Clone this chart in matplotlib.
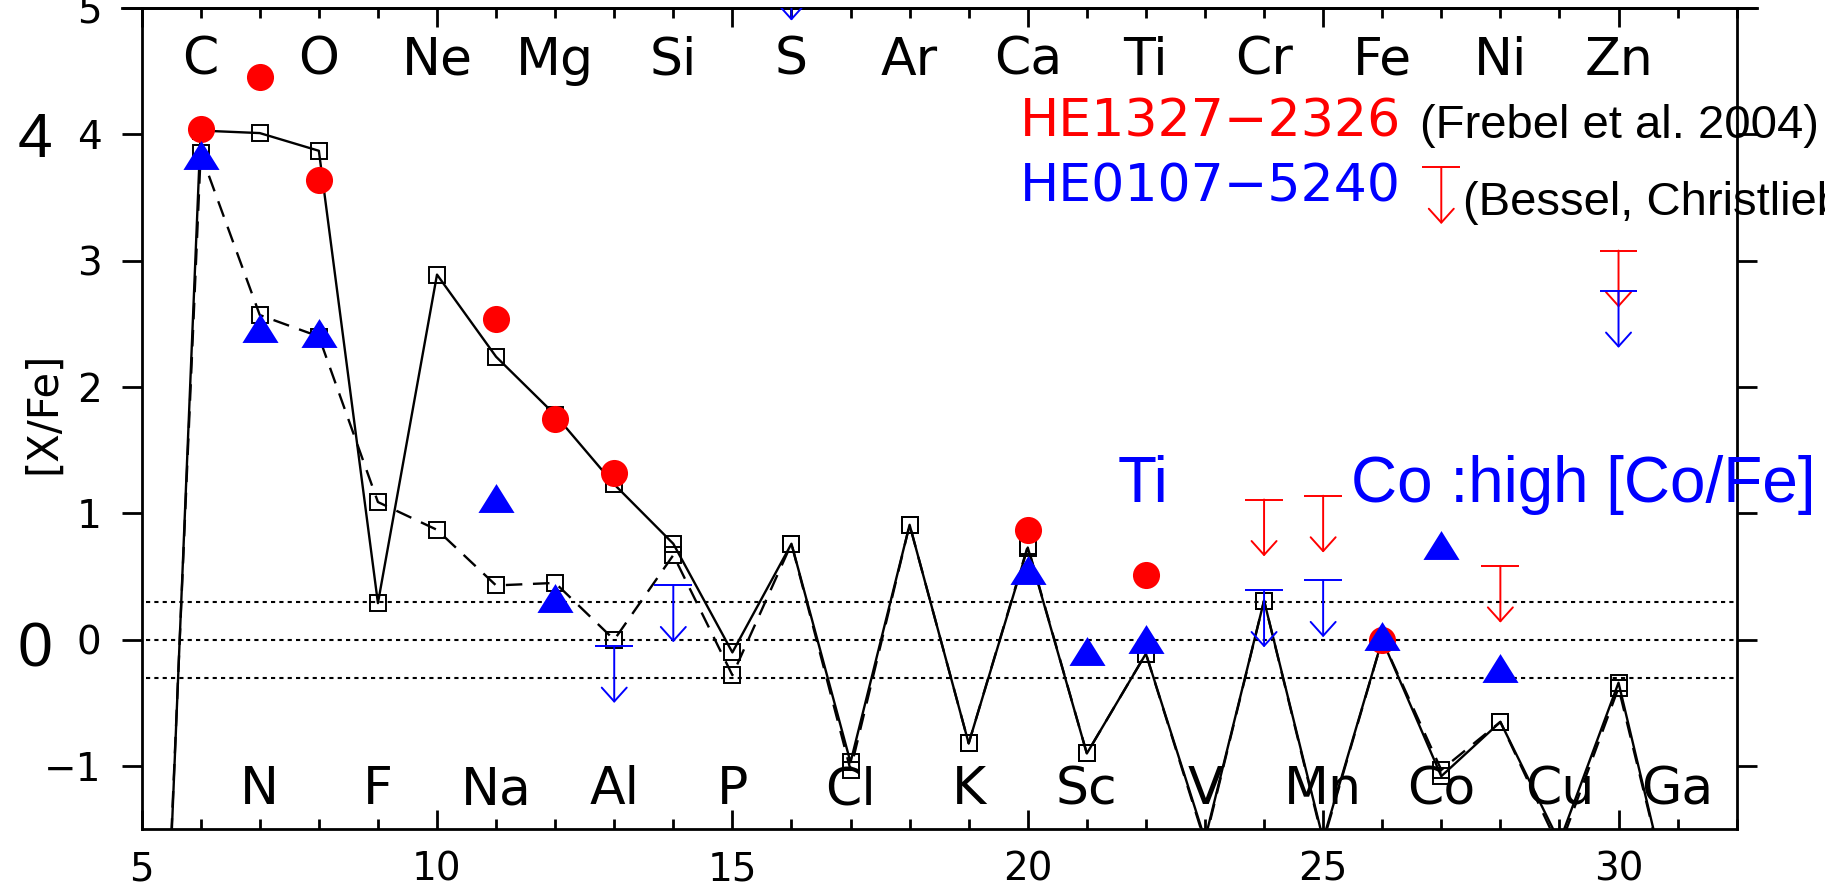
import numpy as np
import matplotlib
matplotlib.use('Agg')
import matplotlib.pyplot as plt
from matplotlib.patches import FancyArrowPatch
from matplotlib.lines import Line2D

# ---------------- data ----------------
Z_model = [5, 6, 7, 8, 9, 10, 11, 12, 13, 14, 15, 16, 17, 18, 19, 20,
           21, 22, 23, 24, 25, 26, 27, 28, 29, 30, 31]
model_solid = [-7.3, 4.03, 4.01, 3.87, 0.29, 2.89, 2.24, 1.78, 1.23, 0.76, -0.10,
               0.76, -0.97, 0.91, -0.82, 0.73, -0.90, -0.11, -1.58, 0.31, -1.58,
               0.00, -1.08, -0.65, -1.60, -0.34, -2.30]
model_dashed = [-7.0, 3.85, 2.57, 2.40, 1.09, 0.87, 0.43, 0.45, 0.00, 0.67, -0.28,
                0.76, -1.03, 0.91, -0.82, 0.74, -0.90, -0.11, -1.60, 0.31, -1.60,
                0.00, -1.03, -0.65, -1.65, -0.38, -2.30]

top_Z = [6, 8, 10, 12, 14, 16, 18, 20, 22, 24, 26, 28, 30]
top_labels = ['C', 'O', 'Ne', 'Mg', 'Si', 'S', 'Ar', 'Ca', 'Ti', 'Cr', 'Fe', 'Ni', 'Zn']
bottom_Z = [7, 9, 11, 13, 15, 17, 19, 21, 23, 25, 27, 29, 31]
bottom_labels = ['N', 'F', 'Na', 'Al', 'P', 'Cl', 'K', 'Sc', 'V', 'Mn', 'Co', 'Cu', 'Ga']

he1327_Z = [6, 7, 8, 11, 12, 13, 20, 22, 26]
he1327_val = [4.04, 4.45, 3.64, 2.54, 1.75, 1.32, 0.87, 0.51, 0.00]
he1327_lim_Z = [24, 25, 28, 30]
he1327_lim_val = [1.11, 1.14, 0.585, 3.08]

he0107_Z = [6, 7, 8, 11, 12, 20, 21, 22, 26, 27, 28]
he0107_val = [3.84, 2.47, 2.43, 1.12, 0.33, 0.55, -0.085, 0.005, 0.03, 0.75, -0.225]
he0107_lim_Z = [13, 14, 16, 24, 25, 30]
he0107_lim_val = [-0.05, 0.43, 5.35, 0.39, 0.47, 2.76]

ref_lines = [0.3, 0.0, -0.3]
xticks_major = [5, 10, 15, 20, 25, 30]
yticks_major = [-1, 0, 1, 2, 3, 4, 5]

RED = (1, 0, 0)
BLUE = (0, 0, 1)
STROKE_FONT = 'DejaVu Sans'
ARIAL = 'Liberation Sans'

# ---------------- figure ----------------
fig = plt.figure(figsize=(18.25, 8.88), dpi=100)
ax = fig.add_axes([0.0776, 0.0661, 0.8740, 0.9249])
ax.set_xlim(5, 32)
ax.set_ylim(-1.5, 5)

for sp in ax.spines.values():
    sp.set_linewidth(2.0)

# extended top frame line (goes past the vertical spines by the tick length)
ext = 20.0 / (0.8740 * 1825)
ax.add_line(Line2D([-ext, 1 + ext], [1, 1], transform=ax.transAxes,
                   color='black', lw=2.0, clip_on=False, zorder=3))

ax.set_xticks(xticks_major)
ax.set_xticks(np.arange(5, 33, 1), minor=True)
ax.set_yticks(yticks_major)
ax.tick_params(axis='x', which='both', direction='in', top=True, bottom=True,
               width=2.0, labelsize=28, pad=15)
ax.tick_params(axis='x', which='major', length=14)
ax.tick_params(axis='x', which='minor', length=7)
ax.tick_params(axis='y', which='major', direction='out', left=True, right=True,
               length=14.4, width=2.0, labelsize=28, pad=14.5)
for lab in ax.get_xticklabels() + ax.get_yticklabels():
    lab.set_fontfamily(STROKE_FONT)

ax.set_ylabel('[X/Fe]', fontsize=30, fontfamily=STROKE_FONT)
ax.yaxis.set_label_coords(-0.0487, 0.507)

# big duplicated labels at far left
ax.text(3.20, 3.82, '4', fontsize=45, fontfamily=ARIAL, ha='center', va='baseline',
        clip_on=False)
ax.text(3.20, -0.21, '0', fontsize=45, fontfamily=ARIAL, ha='center', va='baseline',
        clip_on=False)

# dotted reference lines
ax.hlines(ref_lines, 5.08, 32, colors='black', lw=1.5, linestyles=[(0, (2, 2))],
          zorder=1)

# model lines
ax.plot(Z_model, model_solid, '-', color='black', lw=1.7, marker='s', ms=12,
        mfc='none', mec='black', mew=1.4, zorder=2)
ax.plot(Z_model, model_dashed, color='black', lw=1.7, ls=(0, (7, 4.5)), marker='s',
        ms=12, mfc='none', mec='black', mew=1.4, zorder=2)

# observations
ax.plot(he1327_Z, he1327_val, 'o', color=RED, ms=19.5, mec='none', zorder=4)
tri = [(-0.5, -0.4), (0.5, -0.4), (0.0, 0.4)]
ax.plot(he0107_Z, he0107_val, ls='none', marker=tri, color=BLUE, ms=26, mec='none',
        zorder=4.5)

bar_half = 0.32
arrow_len = 0.45
lim_lw = 1.4


def draw_limits(xs, ys, color):
    xs = np.asarray(xs, float)
    ys = np.asarray(ys, float)
    ax.hlines(ys, xs - bar_half, xs + bar_half, colors=[color], lw=lim_lw, zorder=5)
    for x, y in zip(xs, ys):
        arr = FancyArrowPatch((x, y), (x, y - arrow_len),
                              arrowstyle='->,head_length=10,head_width=9',
                              mutation_scale=1, lw=lim_lw, color=color,
                              shrinkA=0, shrinkB=0, zorder=5)
        ax.add_patch(arr)


draw_limits(he1327_lim_Z, he1327_lim_val, RED)
draw_limits(he0107_lim_Z, he0107_lim_val, BLUE)

# element names
for z, lab in zip(top_Z, top_labels):
    ax.text(z, 4.47, lab, fontsize=37.5, fontfamily=STROKE_FONT, ha='center',
            va='baseline')
for z, lab in zip(bottom_Z, bottom_labels):
    ax.text(z, -1.30, lab, fontsize=37.5, fontfamily=STROKE_FONT, ha='center',
            va='baseline', zorder=1.5)

# legend-like annotations
ax.text(19.86, 3.98, 'HE1327\u22122326', color=RED, fontsize=37.5,
        fontfamily=STROKE_FONT, va='baseline', clip_on=False)
ax.text(26.64, 3.97, '(Frebel et al. 2004)', color='black', fontsize=34,
        fontfamily=ARIAL, va='baseline', clip_on=False)
ax.text(19.86, 3.47, 'HE0107\u22125240', color=BLUE, fontsize=37.5,
        fontfamily=STROKE_FONT, va='baseline', clip_on=False)
draw_limits([27.0], [3.74], RED)
ax.text(27.37, 3.365, '(Bessel, Christlieb et al. 2004)', color='black', fontsize=34,
        fontfamily=ARIAL, va='baseline', clip_on=False)

ax.text(21.52, 1.09, 'Ti', color=BLUE, fontsize=46, fontfamily=ARIAL,
        va='baseline', clip_on=False)
ax.text(25.47, 1.09, 'Co :high [Co/Fe]', color=BLUE, fontsize=46, fontfamily=ARIAL,
        va='baseline', clip_on=False)

fig.savefig('out.png', dpi=100)
